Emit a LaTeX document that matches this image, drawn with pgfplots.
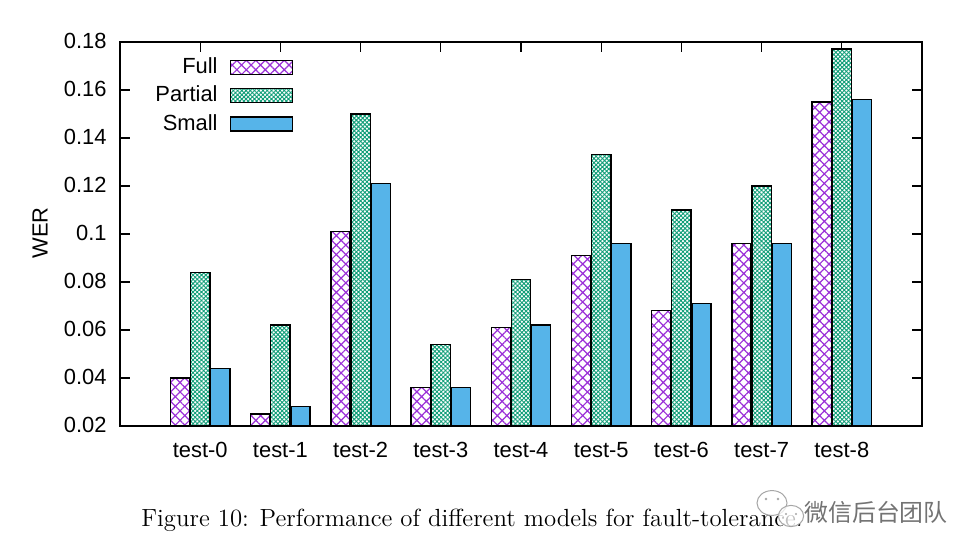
\documentclass[border=0pt]{standalone}
\usepackage{fontspec}
\newfontfamily\lsans{Liberation Sans}
\newfontfamily\cjk{Noto Sans CJK SC}
\usepackage{pgfplots}
\pgfplotsset{compat=1.18}
\usetikzlibrary{patterns.meta}
\definecolor{cfull}{HTML}{9B30D8}
\definecolor{cpart}{HTML}{109E78}
\definecolor{csmall}{HTML}{56B4E9}
\begin{document}
\begin{tikzpicture}
\useasboundingbox (0,0) rectangle (489.5bp,276.5bp);
\begin{axis}[
  at={(60bp,63.5bp)}, anchor=south west,
  scale only axis, width=401bp, height=192bp,
  xmin=-1, xmax=9, ymin=0.02, ymax=0.18,
  xtick={0,1,2,3,4,5,6,7,8},
  xticklabels={test-0,test-1,test-2,test-3,test-4,test-5,test-6,test-7,test-8},
  ytick={0.02,0.04,0.06,0.08,0.1,0.12,0.14,0.16,0.18},
  tick align=inside, major tick length=5bp,
  tick style={black, line width=0.6bp},
  axis line style={line width=0.6bp},
  font=\lsans\fontsize{11}{13}\selectfont,
  yticklabel style={inner sep=0pt, anchor=base east, xshift=-6.5bp, yshift=-3.4bp,
    /pgf/number format/.cd, fixed, precision=2, assume math mode=true},
  xticklabel style={inner sep=0pt, anchor=base, yshift=-16bp},
  ylabel={WER},
  ylabel style={at={(axis description cs:-0.0998,0.5026)}, anchor=center},
  legend style={draw=none, fill=none, inner sep=0pt, outer sep=0pt,
    at={(0.2157,0.960)}, anchor=north east,
    nodes={inner sep=0pt, text height=8bp, text depth=0bp},
    cells={anchor=base east},
    row sep=5.35bp, column sep=6bp},
  legend plot pos=right,
  legend image code/.code={\draw[#1] (0bp,-0.5bp) rectangle (31bp,6.5bp);},
]
\addplot[ybar, bar width=0.24, bar shift=-0.25, draw=black, line width=0.7bp,
  preaction={fill=white},
  pattern={Hatch[angle=45,distance=3.35bp,line width=0.6bp]}, pattern color=cfull]
  coordinates {(0,0.040) (1,0.025) (2,0.101) (3,0.036) (4,0.061) (5,0.091) (6,0.068) (7,0.096) (8,0.155)};
\addlegendentry{Full}
\addplot[ybar, bar width=0.24, bar shift=0, draw=black, line width=0.7bp,
  preaction={fill=white},
  pattern={Hatch[angle=45,distance=1.5bp,line width=0.45bp]}, pattern color=cpart]
  coordinates {(0,0.084) (1,0.062) (2,0.150) (3,0.054) (4,0.081) (5,0.133) (6,0.110) (7,0.120) (8,0.177)};
\addlegendentry{Partial}
\addplot[ybar, bar width=0.24, bar shift=0.25, draw=black, line width=0.7bp,
  fill=csmall]
  coordinates {(0,0.044) (1,0.028) (2,0.121) (3,0.036) (4,0.062) (5,0.096) (6,0.071) (7,0.096) (8,0.156)};
\addlegendentry{Small}
\end{axis}
\node[anchor=base, inner sep=0pt, font=\fontsize{12.45}{14}\selectfont] at (236bp,13.5bp)
  {Figure 10: Performance of different models for fault-tolerance.};
% watermark
\draw[black!35, line width=0.5bp, fill=white, fill opacity=0.6] (386bp,25bp) ellipse (7.5bp and 6.2bp);
\draw[black!35, line width=0.5bp, fill=white, fill opacity=0.75] (395.5bp,18.5bp) ellipse (6.3bp and 5.3bp);
\fill[black!35] (383bp,27bp) circle (0.7bp) (389bp,27bp) circle (0.7bp)
  (393bp,19.5bp) circle (0.6bp) (398bp,19.5bp) circle (0.6bp);
\node[anchor=center, inner sep=0pt, text=black!55, font=\cjk\fontsize{12}{14}\selectfont] at (438bp,20.5bp) {微信后台团队};
\end{tikzpicture}
\end{document}
